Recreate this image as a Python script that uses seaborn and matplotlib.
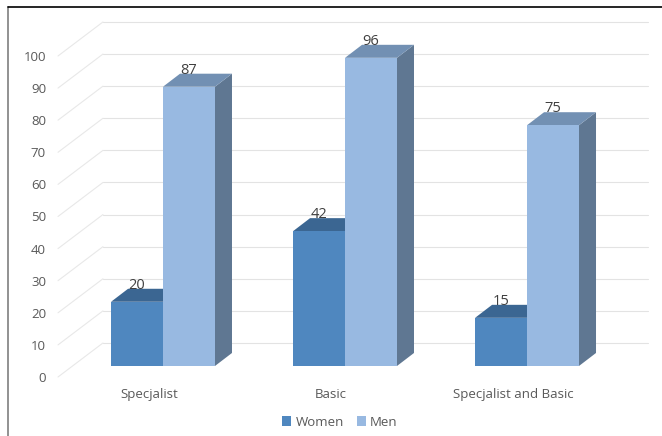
import matplotlib
matplotlib.use("Agg")
import pandas as pd
import numpy as np
import matplotlib.pyplot as plt
import seaborn as sns
from matplotlib.patches import Polygon
from matplotlib.lines import Line2D
from matplotlib.transforms import ScaledTranslation

sns.set_style("white")
plt.rcParams["font.family"] = ["Open Sans", "DejaVu Sans"]

# data
categories = ["Specjalist", "Basic", "Specjalist and Basic"]
groups = ["Women", "Men"]
women = [20, 42, 15]
men = [87, 96, 75]
y_ticks = list(range(0, 101, 10))

df = pd.DataFrame({
    "category": categories * 2,
    "group": ["Women"] * 3 + ["Men"] * 3,
    "value": women + men,
})

front_cols = ["#4F87BF", "#98B9E1"]
top_cols = ["#3B6692", "#7290B3"]
side_cols = ["#3F5F85", "#5F7792"]
text_col = "#595959"

# fake 3d depth, in data units
DX, DY = 0.0934, 4.05          # bar depth
WALL_DX, WALL_DY = 0.170, 7.17  # back wall relative to bar fronts
EDGE_DX, EDGE_DY = -0.077, -3.43  # front floor edge

fig = plt.figure(figsize=(6.62, 4.36), dpi=100)
ax = fig.add_axes([0.0813, 0.1606, 0.8798, 0.8099])

sns.barplot(data=df, x="category", y="value", hue="group", hue_order=groups,
            palette=front_cols, width=0.571, saturation=1, ax=ax,
            linewidth=0, zorder=3)
ax.set_xlim(-0.6, 2.6)
ax.set_ylim(0, 110)

# back wall grid + floor diagonals
x_back0, x_back1 = -0.330, 2.665
for v in y_ticks:
    ax.plot([x_back0, x_back1], [v + WALL_DY, v + WALL_DY], color="#E3E3E3",
            lw=0.8, zorder=1, clip_on=False)
    ax.plot([-0.577, x_back0], [v + EDGE_DY, v + WALL_DY], color="#E8E8E8",
            lw=0.8, zorder=1, clip_on=False)

# top and side faces of each bar
for i, cont in enumerate(ax.containers):
    for bar in cont:
        x0, w, h = bar.get_x(), bar.get_width(), bar.get_height()
        top = Polygon([(x0, h), (x0 + w, h), (x0 + w + DX, h + DY), (x0 + DX, h + DY)],
                      closed=True, facecolor=top_cols[i], lw=0, zorder=2, clip_on=False)
        side = Polygon([(x0 + w, 0), (x0 + w + DX, DY), (x0 + w + DX, h + DY), (x0 + w, h)],
                       closed=True, facecolor=side_cols[i], lw=0, zorder=2, clip_on=False)
        ax.add_patch(side)
        ax.add_patch(top)
        ax.text(x0 + w / 2, h + 5.2, f"{h:.0f}", ha="center", va="center",
                fontsize=10.5, color="#404040", zorder=5)

sns.despine(ax=ax, left=True, bottom=True)
ax.set_xlabel("")
ax.set_ylabel("")
ax.set_yticks(y_ticks)
ax.tick_params(axis="both", length=0, labelsize=9.5, labelcolor=text_col)
ax.tick_params(axis="y", pad=5.6)
ax.tick_params(axis="x", pad=16)
for lbl in ax.get_yticklabels():
    lbl.set_transform(lbl.get_transform() + ScaledTranslation(0, -0.11, fig.dpi_scale_trans))
for lbl in ax.get_xticklabels():
    lbl.set_transform(lbl.get_transform() + ScaledTranslation(-0.14, 0, fig.dpi_scale_trans))

handles, labels = ax.get_legend_handles_labels()
ax.get_legend().remove()
fig.legend(handles, labels, loc="center", bbox_to_anchor=(340 / 662, 1 - 422 / 436),
           ncol=2, frameon=False, handlelength=0.7, handleheight=0.7,
           handletextpad=0.3, columnspacing=1.0, fontsize=9.5,
           labelcolor=text_col)

# outer frame
fig.add_artist(Line2D([8 / 662, 8 / 662], [0, 1 - 7 / 436], color="#7F7F7F", lw=1.2))
fig.add_artist(Line2D([8 / 662, 1], [1 - 7 / 436, 1 - 7 / 436], color="black", lw=1.2))

fig.savefig("out.png", dpi=100)
